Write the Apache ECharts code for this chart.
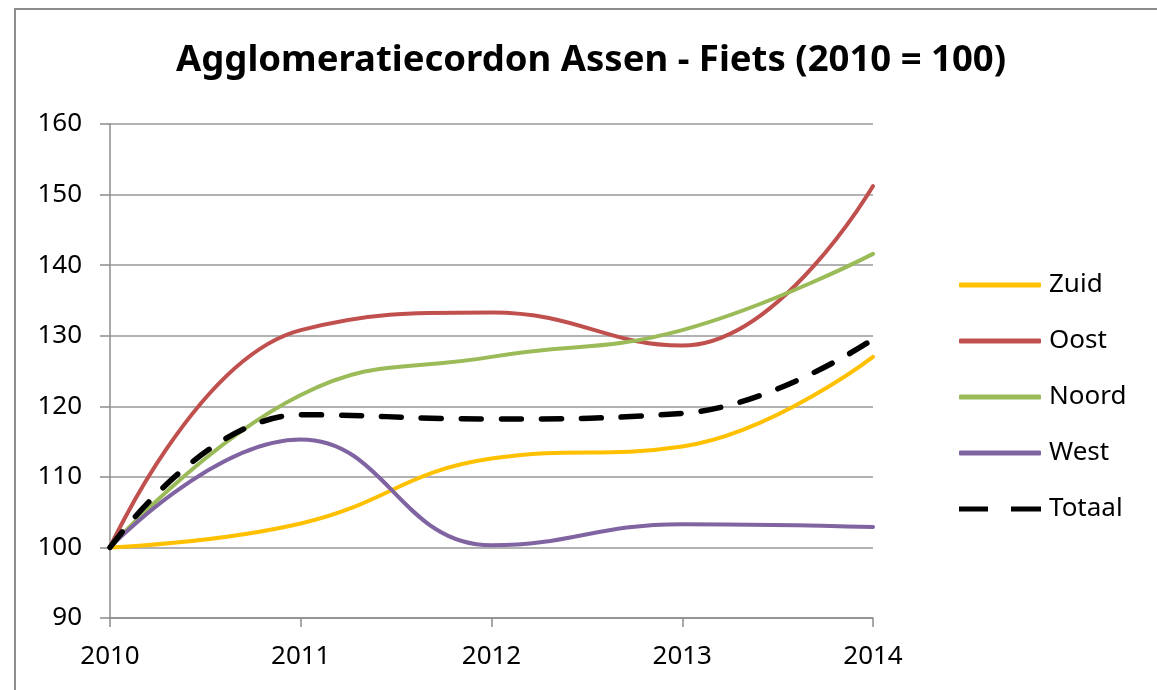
<!DOCTYPE html>
<html>
<head>
<meta charset="utf-8">
<script src="https://cdn.jsdelivr.net/npm/echarts@6/dist/echarts.min.js"></script>
<style>
  html, body { margin: 0; padding: 0; background: #fff; }
  #wrap { position: relative; width: 1157px; height: 690px; overflow: hidden; }
  #frame { position: absolute; left: 14px; top: 8px; width: 1200px; height: 750px; border-left: 2px solid #8c8c8c; border-top: 2px solid #8c8c8c; }
  #main { position: absolute; left: 0; top: 0; width: 1157px; height: 690px; }
</style>
</head>
<body>
<div id="wrap">
  <div id="frame"></div>
  <div id="main"></div>
</div>
<script type="text/javascript">
  var jaren = ['2010', '2011', '2012', '2013', '2014'];
  var zuid = [100, 103.4, 112.6, 114.3, 127];
  var oost = [100, 130.8, 133.3, 128.6, 151.2];
  var noord = [100, 121.6, 127, 130.8, 141.6];
  var west = [100, 115.3, 100.3, 103.3, 102.9];
  var totaal = [100, 118.8, 118.2, 119, 129.5];

  var myChart = echarts.init(document.getElementById('main'));
  var font = 'Noto Sans';

  function lijn(naam, data, kleur, dash) {
    return {
      name: naam,
      type: 'line',
      data: data,
      smooth: 0.45,
      symbol: 'none',
      lineStyle: { color: kleur, width: dash ? 5.5 : 4, type: dash || 'solid', cap: 'round' },
      itemStyle: { color: kleur }
    };
  }

  var option = {
    animation: false,
    title: {
      text: 'Agglomeratiecordon Assen - Fiets (2010 = 100)',
      left: 586,
      textAlign: 'center',
      top: 37,
      textStyle: { fontFamily: font, fontSize: 36.5, fontWeight: 'bold', color: '#000' }
    },
    legend: {
      orient: 'vertical',
      left: 954,
      top: 267,
      itemWidth: 82,
      itemHeight: 5,
      itemGap: 30,
      textStyle: { fontFamily: font, fontSize: 26, color: '#000', padding: [0, 0, 0, 3] },
      data: [
        { name: 'Zuid', icon: 'roundRect' },
        { name: 'Oost', icon: 'roundRect' },
        { name: 'Noord', icon: 'roundRect' },
        { name: 'West', icon: 'roundRect' },
        { name: 'Totaal', icon: 'path://M0,0h29v5h-29zM52,0h30v5h-30z' }
      ]
    },
    grid: { left: 110, right: 284, top: 124, bottom: 72 },
    xAxis: {
      type: 'category',
      boundaryGap: false,
      data: jaren,
      axisLine: { lineStyle: { color: '#8c8c8c', width: 1.5 } },
      axisTick: { show: true, length: 9, lineStyle: { color: '#8c8c8c', width: 1.5 } },
      axisLabel: { fontFamily: font, fontSize: 26, color: '#000', margin: 26 }
    },
    yAxis: {
      type: 'value',
      min: 90,
      max: 160,
      interval: 10,
      axisLine: { show: true, lineStyle: { color: '#8c8c8c', width: 1.5 } },
      axisTick: { show: true, length: 10, lineStyle: { color: '#8c8c8c', width: 1.5 } },
      splitLine: { lineStyle: { color: '#999', width: 1.5 } },
      axisLabel: { fontFamily: font, fontSize: 26, color: '#000', margin: 28 }
    },
    series: [
      lijn('Zuid', zuid, '#FFC000'),
      lijn('Oost', oost, '#C0504D'),
      lijn('Noord', noord, '#9BBB59'),
      lijn('West', west, '#8064A2'),
      lijn('Totaal', totaal, '#000000', [20, 20])
    ]
  };
  myChart.setOption(option);
</script>
</body>
</html>
